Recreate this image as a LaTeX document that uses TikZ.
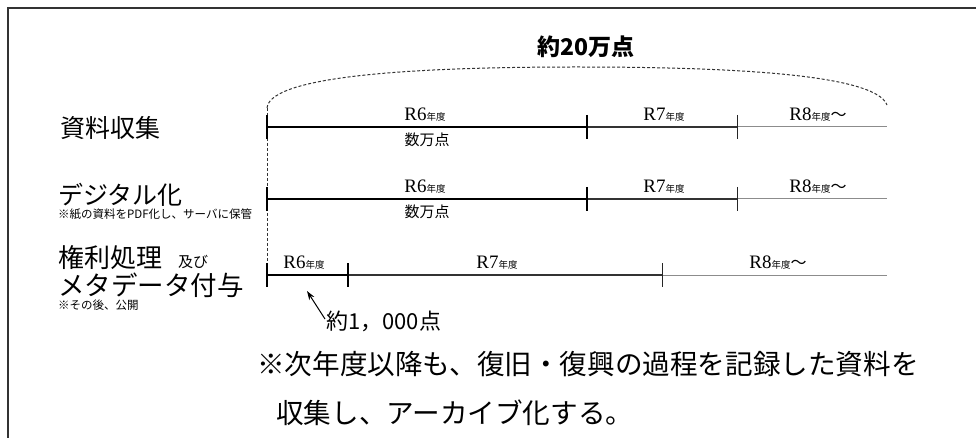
\documentclass[tikz,border=0pt]{standalone}
\usepackage{fontspec}
\setmainfont{Liberation Serif}
\newfontfamily\cjk{Noto Sans CJK JP}
\usetikzlibrary{arrows.meta}
\newcommand\nendo{{\cjk\fontsize{9.5}{10}\selectfont 年度}}
\newcommand\rlab[1]{{\fontsize{19}{19}\selectfont R#1}\nendo}
\tikzset{
  thickseg/.style={line width=2.2pt, black},
  midseg/.style={line width=1.1pt, black!80},
  lastseg/.style={line width=1pt, black!45},
  bigtick/.style={line width=2.4pt, black},
  thintick/.style={line width=1pt, black!85},
  yearlab/.style={inner sep=0pt, anchor=center},
  rowlab/.style={inner sep=0pt, anchor=west, font=\cjk\fontsize{25}{25}\selectfont},
  notelab/.style={inner sep=0pt, anchor=west, font=\cjk\fontsize{11.5}{12}\selectfont},
  cntlab/.style={inner sep=0pt, anchor=center, font=\cjk\fontsize{15}{15}\selectfont},
  dashline/.style={black!80, line width=1pt, dash pattern=on 3pt off 2pt}
}
\begin{document}
\begin{tikzpicture}[x=1pt,y=-1pt]
\useasboundingbox (0,0) rectangle (976,438);
% frame
\draw[line width=2pt, black!80] (976,8) -- (8,8) -- (8,438);

% title
\node[inner sep=0pt, font=\cjk\bfseries\fontsize{23}{23}\selectfont] (title) at (586,47) {約20万点};

% row coordinates
\coordinate (a1) at (267,127); \coordinate (b1) at (587,127); \coordinate (c1) at (737,127); \coordinate (d1) at (887,127);
\coordinate (a2) at (267,199); \coordinate (b2) at (587,199); \coordinate (c2) at (737,199); \coordinate (d2) at (887,199);
\coordinate (a3) at (267,275); \coordinate (b3) at (348,275); \coordinate (c3) at (662,275); \coordinate (d3) at (887,275);

% dashed brace arc and vertical
\coordinate (arcL) at (267,108);
\coordinate (arcT) at (577,67);
\coordinate (arcR) at (887,105);
\coordinate (vEnd) at (267,263);
\draw[dashline] (arcL) .. controls (270,73) and (440,67) .. (arcT) .. controls (720,67) and (875,73) .. (arcR);
\draw[dashline] (arcL) -- (vEnd);

% row lines
\foreach \r in {1,2}{
  \draw[lastseg] (c\r) -- (d\r);
  \draw[midseg] (b\r) -- (c\r);
  \draw[thickseg] (a\r) -- (b\r);
  \draw[bigtick] ([yshift=12pt]a\r) -- ([yshift=-12pt]a\r);
  \draw[bigtick] ([yshift=12pt]b\r) -- ([yshift=-12pt]b\r);
  \draw[thintick] ([yshift=12pt]c\r) -- ([yshift=-12pt]c\r);
}
\draw[lastseg] (c3) -- (d3);
\draw[midseg] (b3) -- (c3);
\draw[thickseg] (a3) -- (b3);
\draw[bigtick] ([yshift=12pt]a3) -- ([yshift=-12pt]a3);
\draw[bigtick] ([yshift=12pt]b3) -- ([yshift=-12pt]b3);
\draw[thintick] ([yshift=12pt]c3) -- ([yshift=-12pt]c3);

% year labels
\node[yearlab] (r61) at (425,115) {\rlab{6}};
\node[cntlab] (n1) at (427,140) {数万点};
\node[yearlab] (r71) at (664,115) {\rlab{7}};
\node[yearlab] (r81) at (818,115) {\rlab{8}{\cjk\fontsize{16}{16}\selectfont ～}};

\node[yearlab] (r62) at (425,187) {\rlab{6}};
\node[cntlab] (n2) at (427,212) {数万点};
\node[yearlab] (r72) at (664,187) {\rlab{7}};
\node[yearlab] (r82) at (818,187) {\rlab{8}{\cjk\fontsize{16}{16}\selectfont ～}};

\node[yearlab] (r63) at (304,263) {\rlab{6}};
\node[yearlab] (r73) at (497,263) {\rlab{7}};
\node[yearlab] (r83) at (778,263) {\rlab{8}{\cjk\fontsize{16}{16}\selectfont ～}};

% left labels
\node[rowlab] (l1) at (60,128) {資料収集};
\node[rowlab] (l2) at (58,195) {デジタル化};
\node[notelab] (l2n) at (58,214) {※紙の資料をPDF化し、サーバに保管};
\node[rowlab, font=\cjk\fontsize{26}{26}\selectfont] (l3) at (58,258) {権利処理};
\node[inner sep=0pt, anchor=west, font=\cjk\fontsize{15}{15}\selectfont] (l3b) at (178,262) {及び};
\node[rowlab, font=\cjk\fontsize{26.5}{26}\selectfont] (l3c) at (58,285) {メタデータ付与};
\node[notelab] (l3n) at (58,305) {※その後、公開};

% arrow and count
\node[inner sep=0pt, anchor=west, font=\cjk\fontsize{22}{22}\selectfont] (cnt) at (326,321) {約1，000点};
\coordinate (tip) at (307,291);
\draw[line width=1pt, -{Stealth[length=9pt,width=6pt]}] (cnt.west) ++(-1,-2) coordinate (tail) (tail) -- (tip);

% bottom note
\node[inner sep=0pt, anchor=west, font=\cjk\fontsize{27.6}{28}\selectfont] (bn1) at (257,364) {※次年度以降も、復旧・復興の過程を記録した資料を};
\node[inner sep=0pt, anchor=west, font=\cjk\fontsize{27.6}{28}\selectfont] (bn2) at (276,413) {収集し、アーカイブ化する。};
\end{tikzpicture}
\end{document}
